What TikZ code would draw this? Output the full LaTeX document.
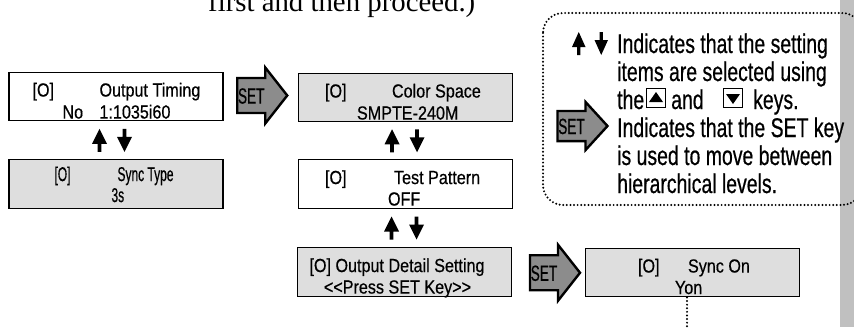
\documentclass[tikz,border=0pt]{standalone}
\usepackage{fontspec}
\setmainfont{Liberation Serif}
\newfontfamily\lcdfont[FakeStretch=0.85,FakeBold=0.5]{Liberation Sans}
\newfontfamily\lcdsmall[FakeStretch=0.6,FakeBold=0.5]{Liberation Sans}
\newfontfamily\notefont[FakeStretch=0.72,FakeBold=0.5]{Liberation Sans}
\newfontfamily\keyfont[FakeStretch=0.62,FakeBold=0.5]{Liberation Sans}
\usetikzlibrary{calc}
\definecolor{panelgray}{HTML}{DEDEDE}
\definecolor{arrowgray}{HTML}{8C8C8C}
\definecolor{stripgray}{HTML}{C0C0C0}
\tikzset{
  panel/.style={draw, line width=1.4pt, minimum width=214pt, minimum height=48.5pt,
    inner sep=0pt, fill=#1},
  panel/.default=white,
  lcd/.style={font=\lcdfont\fontsize{19}{19}\selectfont, anchor=base west, inner sep=0pt},
  lcdc/.style={font=\lcdfont\fontsize{19}{19}\selectfont, anchor=base, inner sep=0pt},
  lcds/.style={font=\lcdsmall\fontsize{20}{20}\selectfont, anchor=base west, inner sep=0pt},
  note/.style={font=\notefont\fontsize{27}{27}\selectfont, anchor=base west, inner sep=0pt},
  keylabel/.style={font=\keyfont\fontsize{22}{22}\selectfont, inner sep=0pt},
  keybox/.style={draw, line width=1.3pt, minimum size=19.5pt, inner sep=0pt, fill=white},
  dotline/.style={line width=2.2pt, line cap=round, dash pattern=on 0pt off 3.6pt},
  updown/.pic={
    % up arrow (left) and down arrow (right)
    \fill (-12.5,-11.5) -- (-5,3.5) -- (-10.7,3.5) -- (-10.7,11.5) -- (-14.3,11.5) -- (-14.3,3.5) -- (-20,3.5) -- cycle;
    \fill (12.5,11.5) -- (20,-3.5) -- (14.3,-3.5) -- (14.3,-11.5) -- (10.7,-11.5) -- (10.7,-3.5) -- (5,-3.5) -- cycle;
  },
  setkey/.pic={
    % block arrow carrying the SET label, centred on its own middle
    \filldraw[fill=arrowgray, line width=2.4pt, line join=miter]
      (-25,-17.5) -- (3,-17.5) -- (3,-28) -- (25,0) -- (3,28) -- (3,17.5) -- (-25,17.5) -- cycle;
    \node[keylabel] at (-11,0.5) {SET};
  }
}
\begin{document}
\begin{tikzpicture}[x=1pt,y=-1pt]
\useasboundingbox (0,0) rectangle (854,327);
\clip (0,0) rectangle (854,327);

% page-edge strip
\fill[stripgray] (840,0) rectangle (854,327);

% running text above the chart
\node[font=\fontsize{28.8}{30}\selectfont, anchor=base west, inner sep=0pt] (head) at (208,11)
  {first and then proceed.)};

% display panels
\node[panel] (ot) at (116,96.5) {};
\node[panel=panelgray] (st) at (116,184) {};
\node[panel=panelgray] (cs) at (405.5,97.5) {};
\node[panel] (tp) at (405.5,184) {};
\node[panel=panelgray] (od) at (404.5,272) {};
\node[panel=panelgray] (so) at (692.5,272.5) {};

% panel texts
\node[lcd] (ot1) at ([shift={(24,25)}]ot.north west) {[O]};
\node[lcd] (ot2) at ([shift={(91,25)}]ot.north west) {Output Timing};
\node[lcd] (ot3) at ([shift={(54,47)}]ot.north west) {No};
\node[lcd] (ot4) at ([shift={(91,47)}]ot.north west) {1:1035i60};

\node[lcds] (st1) at ([shift={(46,22)}]st.north west) {[O]};
\node[lcds] (st2) at ([shift={(109,22)}]st.north west) {Sync Type};
\node[lcds] (st3) at ([shift={(103,43)}]st.north west) {3s};

\node[lcd] (cs1) at ([shift={(27,25)}]cs.north west) {[O]};
\node[lcd] (cs2) at ([shift={(94,25)}]cs.north west) {Color Space};
\node[lcd] (cs3) at ([shift={(59,47)}]cs.north west) {SMPTE-240M};

\node[lcd] (tp1) at ([shift={(27,25)}]tp.north west) {[O]};
\node[lcd] (tp2) at ([shift={(96,25)}]tp.north west) {Test Pattern};
\node[lcd] (tp3) at ([shift={(90,46.5)}]tp.north west) {OFF};

\node[lcdc] (od1) at ([shift={(-7.5,25)}]od.north) {[O] Output Detail Setting};
\node[lcdc] (od2) at ([shift={(-7,46.5)}]od.north) {<{}<Press SET Key>{}>};

\node[lcd] (so1) at ([shift={(53,25)}]so.north west) {[O]};
\node[lcd] (so2) at ([shift={(103,25)}]so.north west) {Sync On};
\node[lcd] (so3) at ([shift={(90,46.5)}]so.north west) {Yon};

% SET transitions
\pic at ($(ot.east)!0.5!(cs.west)+(1.5,-1.5)$) {setkey};
\pic at ($(od.east)!0.5!(so.west)+(6.5,0.5)$) {setkey};

% up/down selections
\pic at ($(ot.south)!0.5!(st.north)+(-4,0)$) {updown};
\pic at ($(cs.south)!0.5!(tp.north)+(-1,0)$) {updown};
\pic at ($(tp.south)!0.5!(od.north)+(-1,0)$) {updown};

% continuation below Sync On
\coordinate (tail) at (687,327);
\draw[dotline] (so.south -| tail) -- (tail);

% legend
\draw[dotline, rounded corners=20pt] (543,13) rectangle (862,205);
\pic[xscale=0.9] at (590,43.5) {updown};
\pic[yscale=0.86] at (582.5,126) {setkey};

\node[note] (n1) at (617,53) {Indicates that the setting};
\node[note] (n2) at (617,81) {items are selected using};
\node[note] (n3a) at (617,109) {the};
\node[keybox] (kup) at (656,98) {};
\fill ([yshift=6pt]kup.center) -- ++(7,10) -- ++(-14,0) -- cycle;
\node[note] (n3b) at (671,109) {and};
\node[keybox] (kdn) at (733,98) {};
\fill ([yshift=-6pt]kdn.center) -- ++(7,-10) -- ++(-14,0) -- cycle;
\node[note] (n3c) at (753,109) {keys.};
\node[note] (n4) at (617,137) {Indicates that the SET key};
\node[note] (n5) at (617,165) {is used to move between};
\node[note] (n6) at (617,193) {hierarchical levels.};
\end{tikzpicture}
\end{document}
